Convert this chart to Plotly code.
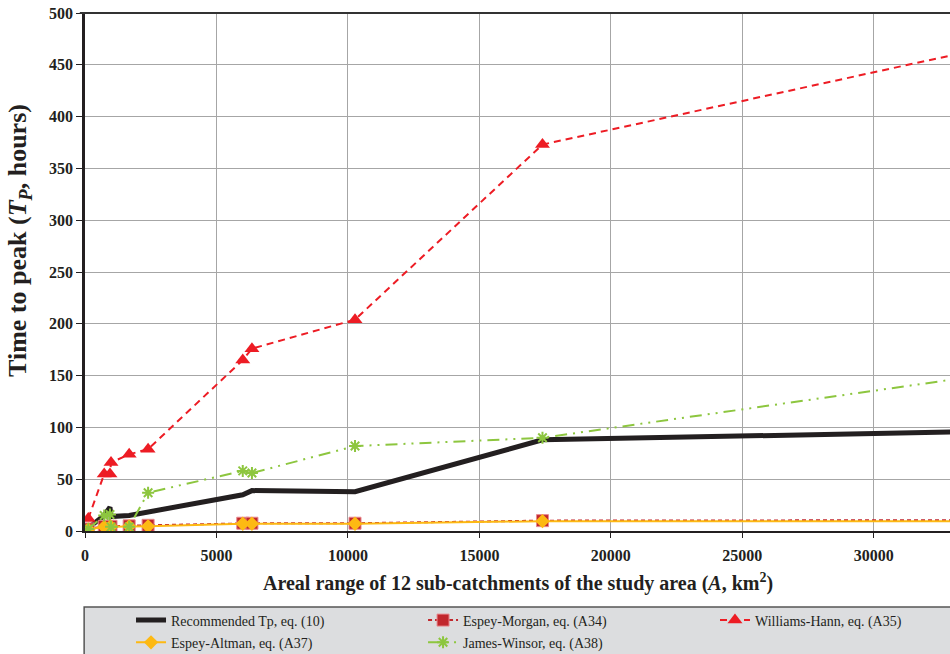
import plotly.graph_objects as go

# Sub-catchment areas (km2) and time-to-peak estimates (hours)
area = [125, 730, 950, 990, 1680, 2400, 6000, 6350, 10270, 17400, 36000]
recommended = [3, 15, 23, 14, 15, 18.5, 35, 39, 38, 88, 97]
espey_morgan = [2, 4.5, 4.5, 4.5, 5, 5.5, 7.5, 7.5, 7.5, 10, 10.5]
williams_hann = [12, 55, 55, 66, 74, 79, 165, 176, 204, 373, 476]
espey_altman = [1.5, 4, 4, 4, 4.5, 4.5, 7, 7, 7, 9.5, 9.5]
james_winsor = [2, 15, 16, 4, 4, 37, 58, 56, 82, 90, 157]

x_ticks = [0, 5000, 10000, 15000, 20000, 25000, 30000]
y_ticks = [0, 50, 100, 150, 200, 250, 300, 350, 400, 450, 500]

FONT = "Liberation Serif"
INK = "#231f20"

fig = go.Figure()

fig.add_trace(go.Scatter(
    x=area, y=recommended, mode="lines", name="Recommended Tp, eq. (10)",
    line=dict(color=INK, width=5), legend="legend", legendgroup="a"))
fig.add_trace(go.Scatter(
    x=area, y=espey_morgan, mode="lines+markers", name="Espey-Morgan, eq. (A34)",
    line=dict(color="#c1272d", width=2, dash="4px,3px"),
    marker=dict(symbol="square", size=12, color="#c1272d",
                line=dict(color="#e88a8f", width=1)),
    legend="legend2", legendgroup="c"))
fig.add_trace(go.Scatter(
    x=area, y=williams_hann, mode="lines+markers", name="Williams-Hann, eq. (A35)",
    line=dict(color="#ed1c24", width=2, dash="7px,5px"),
    marker=dict(symbol="triangle-up", size=13, color="#ed1c24"),
    legend="legend3", legendgroup="e"))
fig.add_trace(go.Scatter(
    x=area, y=espey_altman, mode="lines+markers", name="Espey-Altman, eq. (A37)",
    line=dict(color="#fdb913", width=2),
    marker=dict(symbol="diamond", size=11, color="#fdb913"),
    legend="legend", legendgroup="b"))
fig.add_trace(go.Scatter(
    x=area, y=james_winsor, mode="lines+markers", name="James-Winsor, eq. (A38)",
    line=dict(color="#8dc63f", width=2, dash="12px,6px,2px,6px,2px,6px"),
    marker=dict(symbol="asterisk-open", size=10, color="#8dc63f",
                line=dict(color="#8dc63f", width=2)),
    legend="legend2", legendgroup="d"))

# Legend background box
fig.add_shape(type="rect", xref="paper", yref="paper",
              x0=-0.001, x1=1.05, y0=-0.1467, y1=-0.30,
              fillcolor="#dcdddf", line=dict(color="#555555", width=1.5),
              layer="below")
# top border
fig.add_shape(type="line", xref="paper", yref="paper", x0=-0.006, x1=1, y0=1, y1=1,
              line=dict(color="#333333", width=2))

# axis titles as annotations for exact placement
fig.add_annotation(
    text="Areal range of 12 sub-catchments of the study area (<i>A</i>, km<sup>2</sup>)",
    xref="paper", yref="paper", x=0.5, y=-0.0985, xanchor="center", yanchor="middle",
    showarrow=False, font=dict(family=FONT, size=20, weight="bold", color=INK))
fig.add_annotation(
    text="Time to peak (<i>T<sub>P</sub></i>, hours)",
    xref="paper", yref="paper", x=-0.0763, y=0.56, xanchor="center", yanchor="middle",
    textangle=-90, showarrow=False,
    font=dict(family=FONT, size=26, weight="bold", color=INK))

leg_common = dict(bgcolor="rgba(0,0,0,0)", borderwidth=0, orientation="v",
                  yanchor="top", xanchor="left", tracegroupgap=1,
                  font=dict(family=FONT, size=14, color=INK))

fig.update_layout(
    width=950, height=654,
    margin=dict(l=85, r=0, t=13, b=123, autoexpand=False),
    paper_bgcolor="white", plot_bgcolor="white",
    font=dict(family=FONT, color=INK),
    legend=dict(x=0.0532, y=-0.1419, **leg_common),
    legend2=dict(x=0.3908, y=-0.1419, **leg_common),
    legend3=dict(x=0.7283, y=-0.1419, **leg_common),
    xaxis=dict(
        range=[0, 32900], tickvals=x_ticks, ticktext=[str(v) for v in x_ticks],
        showgrid=True, gridcolor="#a6a6a6", gridwidth=1,
        showline=True, linecolor=INK, linewidth=2,
        ticks="outside", ticklen=5, tickcolor=INK, zeroline=False,
        ticklabelstandoff=4,
        tickfont=dict(family=FONT, size=16, weight="bold", color=INK),
    ),
    yaxis=dict(
        range=[0, 500], tickvals=y_ticks, ticktext=[str(v) for v in y_ticks],
        showgrid=True, gridcolor="#a6a6a6", gridwidth=1,
        showline=True, linecolor=INK, linewidth=2.5,
        ticks="outside", ticklen=6, tickcolor=INK, zeroline=False,
        tickfont=dict(family=FONT, size=16, weight="bold", color=INK),
    ),
)

fig.write_html("out.html")
